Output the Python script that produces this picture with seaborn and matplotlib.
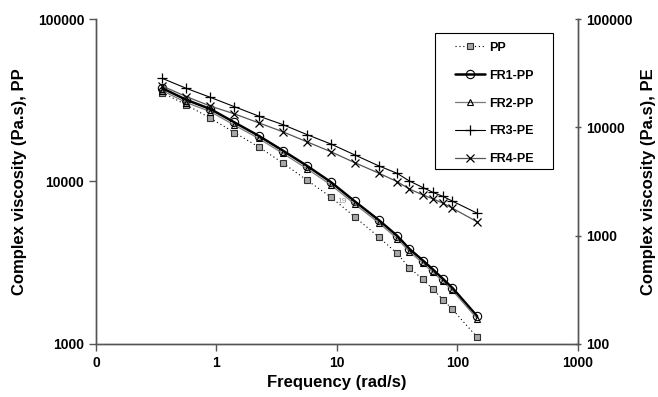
import matplotlib
matplotlib.use('Agg')
import matplotlib.pyplot as plt
from matplotlib.patches import Rectangle
import seaborn as sns
import pandas as pd

# frequency sweep (rad/s)
freq = [0.355, 0.562, 0.891, 1.41, 2.24, 3.55, 5.62, 8.91, 14.1, 22.4, 31.6, 40, 52, 63, 76, 91, 146]

# complex viscosity (Pa.s) - PP grades, left axis
pp = [35200, 29600, 24500, 20000, 16300, 13000, 10200, 8010, 6040, 4530, 3600, 2940, 2490, 2160, 1870, 1630, 1100]
fr1_pp = [37500, 31800, 27900, 23100, 19100, 15500, 12500, 9910, 7530, 5760, 4630, 3840, 3250, 2860, 2510, 2210, 1480]
fr2_pp = [36200, 30600, 26900, 22200, 18400, 14900, 12000, 9520, 7240, 5540, 4450, 3690, 3130, 2750, 2420, 2130, 1430]

# complex viscosity (Pa.s) - PE grades, right axis
fr3_pe = [28300, 22900, 18900, 15500, 12700, 10600, 8580, 7010, 5550, 4390, 3760, 3190, 2770, 2500, 2300, 2080, 1610]
fr4_pe = [24100, 19200, 15700, 13300, 11000, 9100, 7360, 5950, 4710, 3760, 3150, 2690, 2370, 2180, 1990, 1790, 1340]

x_ticks = [0.1, 1, 10, 100, 1000]
x_labels = ['0', '1', '10', '100', '1000']
y_left_ticks = [1000, 10000, 100000]
y_right_ticks = [100, 1000, 10000, 100000]

sns.set_style('ticks')
plt.rcParams['font.family'] = ['Liberation Sans', 'DejaVu Sans']
plt.rcParams['font.weight'] = 'bold'
plt.rcParams['text.color'] = 'black'
plt.rcParams['axes.labelcolor'] = 'black'

fig = plt.figure(figsize=(6.58, 3.97), dpi=100)
ax = fig.add_axes([0.146, 0.134, 0.732, 0.818])
ax2 = ax.twinx()

df = pd.DataFrame({'freq': freq, 'PP': pp, 'FR1-PP': fr1_pp, 'FR2-PP': fr2_pp,
                   'FR3-PE': fr3_pe, 'FR4-PE': fr4_pe})

# left axis series
sns.lineplot(data=df, x='freq', y='PP', ax=ax, color='black', lw=0.8, linestyle=(0, (1, 2.5)),
             marker='s', markersize=4.5, markerfacecolor='#a8a8a8', markeredgecolor='#303030',
             markeredgewidth=0.8, label='PP', legend=False)
sns.lineplot(data=df, x='freq', y='FR1-PP', ax=ax, color='black', lw=1.8,
             marker='o', markersize=6, markerfacecolor='none', markeredgecolor='black',
             markeredgewidth=0.8, label='FR1-PP', legend=False)
sns.lineplot(data=df, x='freq', y='FR2-PP', ax=ax, color='#7a7a7a', lw=0.9,
             marker='^', markersize=4.5, markerfacecolor='none', markeredgecolor='black',
             markeredgewidth=0.8, label='FR2-PP', legend=False)

# right axis series
sns.lineplot(data=df, x='freq', y='FR3-PE', ax=ax2, color='black', lw=0.8,
             marker='+', markersize=6.5, markeredgecolor='black', markeredgewidth=0.9,
             label='FR3-PE', legend=False)
sns.lineplot(data=df, x='freq', y='FR4-PE', ax=ax2, color='#555555', lw=0.9,
             marker='x', markersize=5.5, markeredgecolor='black', markeredgewidth=0.9,
             label='FR4-PE', legend=False)

# small stray label in the original
ax.text(11.1, 7500, '19', fontsize=6, color='#9a9a9a', ha='center', va='center', fontweight='normal')

for a in (ax, ax2):
    a.set_xscale('log')
    a.set_yscale('log')
    a.set_xlim(0.1, 1000)
    a.minorticks_off()
    a.spines['top'].set_visible(False)
    for s in a.spines.values():
        s.set_color('#555555')
        s.set_linewidth(1.0)

ax.set_ylim(1000, 100000)
ax2.set_ylim(100, 100000)
ax.set_xticks(x_ticks)
ax.set_xticklabels(x_labels)
ax.set_yticks(y_left_ticks)
ax.set_yticklabels([str(v) for v in y_left_ticks])
ax2.set_yticks(y_right_ticks)
ax2.set_yticklabels([str(v) for v in y_right_ticks])
ax2.minorticks_off()

ax.tick_params(axis='both', labelsize=10, length=5, width=1, color='#555555',
               labelcolor='black', direction='out')
ax2.tick_params(axis='y', labelsize=10, length=5, width=1, color='#555555',
                labelcolor='black', direction='inout')
for lab in ax.get_xticklabels() + ax.get_yticklabels() + ax2.get_yticklabels():
    lab.set_fontweight('bold')

ax.set_xlabel('Frequency (rad/s)', fontsize=12, fontweight='bold', labelpad=4)
ax.set_ylabel('Complex viscosity (Pa.s), PP', fontsize=12, fontweight='bold', labelpad=8)
ax2.set_ylabel('Complex viscosity (Pa.s), PE', fontsize=12, fontweight='bold', labelpad=6)

# legend box drawn separately so the padding matches the original
ax2.add_patch(Rectangle((0.703, 0.538), 0.245, 0.418, transform=ax2.transAxes,
                        facecolor='white', edgecolor='black', lw=0.8, zorder=5))
handles = ax.get_lines()[:3] + ax2.get_lines()[:2]
labels = ['PP', 'FR1-PP', 'FR2-PP', 'FR3-PE', 'FR4-PE']
leg = ax2.legend(handles, labels, loc='upper left', bbox_to_anchor=(0.745, 0.93),
                 frameon=False, borderaxespad=0, borderpad=0,
                 handlelength=2.4, labelspacing=1.27, handletextpad=0.3,
                 prop={'weight': 'bold', 'size': 9})
leg.set_zorder(6)

fig.savefig('out.png', dpi=100)
